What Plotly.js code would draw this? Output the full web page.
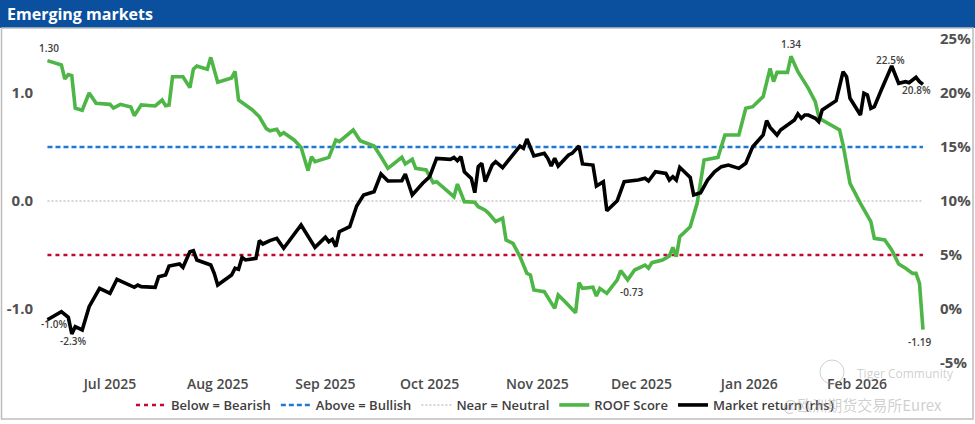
<!DOCTYPE html>
<html>
<head>
<meta charset="utf-8">
<script src="https://cdn.plot.ly/plotly-3.0.1.min.js"></script>
<style>
html,body{margin:0;padding:0;background:#fff;}
#chart{width:975px;height:424px;}
</style>
</head>
<body>
<div id="chart"></div>
<script>
// ---------- data ----------
const monthTicks = ['2025-07-01','2025-08-01','2025-09-01','2025-10-01','2025-11-01','2025-12-01','2026-01-01','2026-02-01'];
const monthLabels = ['Jul 2025','Aug 2025','Sep 2025','Oct 2025','Nov 2025','Dec 2025','Jan 2026','Feb 2026'];

const leftTicks = [-1, 0, 1];
const leftLabels = ['-1.0', '0.0', '1.0'];
const rightTicks = [-5, 0, 5, 10, 15, 20, 25];
const rightLabels = ['-5%', '0%', '5%', '10%', '15%', '20%', '25%'];

const roofDates = ['2025-06-13','2025-06-17','2025-06-18','2025-06-19','2025-06-20','2025-06-21','2025-06-23','2025-06-25','2025-06-27','2025-07-01',
'2025-07-02','2025-07-04','2025-07-07','2025-07-08','2025-07-10','2025-07-14','2025-07-16','2025-07-17','2025-07-18','2025-07-19',
'2025-07-22','2025-07-24','2025-07-25','2025-07-26','2025-07-29','2025-07-30','2025-08-01','2025-08-05','2025-08-06','2025-08-07',
'2025-08-11','2025-08-13','2025-08-15','2025-08-16','2025-08-18','2025-08-19','2025-08-20','2025-08-23','2025-08-25','2025-08-27',
'2025-08-28','2025-08-29','2025-09-02','2025-09-04','2025-09-05','2025-09-09','2025-09-11','2025-09-15','2025-09-17','2025-09-19',
'2025-09-23','2025-09-24','2025-09-26','2025-09-27','2025-09-30','2025-10-02','2025-10-03','2025-10-08','2025-10-09','2025-10-11',
'2025-10-14','2025-10-15','2025-10-16','2025-10-17','2025-10-18','2025-10-20','2025-10-22','2025-10-23','2025-10-25','2025-10-27',
'2025-10-29','2025-10-30','2025-10-31','2025-11-03','2025-11-06','2025-11-07','2025-11-09','2025-11-12','2025-11-13','2025-11-14',
'2025-11-17','2025-11-18','2025-11-19','2025-11-21','2025-11-24','2025-11-25','2025-11-27','2025-11-29','2025-12-02','2025-12-03',
'2025-12-04','2025-12-07','2025-12-09','2025-12-10','2025-12-11','2025-12-12','2025-12-15','2025-12-17','2025-12-19','2025-12-23',
'2025-12-25','2025-12-29','2025-12-31','2026-01-02','2026-01-05','2026-01-07','2026-01-08','2026-01-09','2026-01-12','2026-01-13',
'2026-01-15','2026-01-18','2026-01-20','2026-01-21','2026-01-22','2026-01-25','2026-01-27','2026-01-28','2026-01-30','2026-02-02',
'2026-02-05','2026-02-06','2026-02-09','2026-02-11','2026-02-13','2026-02-15','2026-02-17','2026-02-18','2026-02-19','2026-02-20'];

const roofScore = [1.30,1.26,1.13,1.17,1.16,0.86,0.84,1.00,0.905,0.895,
0.86,0.895,0.87,0.79,0.89,0.88,0.935,0.883,0.889,1.15,
1.15,1.05,1.22,1.25,1.22,1.33,1.10,1.14,1.20,0.935,
0.843,0.78,0.67,0.65,0.664,0.611,0.632,0.565,0.497,0.281,
0.41,0.364,0.404,0.565,0.549,0.657,0.558,0.509,0.41,0.302,
0.404,0.343,0.386,0.302,0.287,0.17,0.179,0.04,0.157,-0.006,
-0.012,-0.053,-0.068,-0.085,-0.114,-0.191,-0.16,-0.361,-0.392,-0.515,
-0.67,-0.685,-0.824,-0.839,-0.994,-0.87,-0.932,-1.034,-0.756,-0.809,
-0.799,-0.88,-0.809,-0.855,-0.731,-0.645,-0.73,-0.639,-0.593,-0.623,
-0.571,-0.546,-0.509,-0.429,-0.515,-0.33,-0.238,-0.022,0.38,0.404,
0.611,0.611,0.858,0.873,0.966,1.228,1.105,1.191,1.191,1.34,
1.197,1.043,0.92,0.781,0.75,0.694,0.657,0.519,0.164,-0.022,
-0.191,-0.346,-0.361,-0.454,-0.583,-0.623,-0.67,-0.67,-0.762,-1.19];

const retDates = ['2025-06-13','2025-06-17','2025-06-19','2025-06-20','2025-06-21','2025-06-23','2025-06-25','2025-06-28','2025-07-01','2025-07-02',
'2025-07-03','2025-07-08','2025-07-09','2025-07-10','2025-07-14','2025-07-15','2025-07-17','2025-07-18','2025-07-21','2025-07-22',
'2025-07-24','2025-07-25','2025-07-26','2025-07-30','2025-07-31','2025-08-01','2025-08-05','2025-08-06','2025-08-07','2025-08-08',
'2025-08-09','2025-08-12','2025-08-13','2025-08-14','2025-08-16','2025-08-18','2025-08-20','2025-08-25','2025-08-29','2025-09-01',
'2025-09-02','2025-09-03','2025-09-04','2025-09-05','2025-09-08','2025-09-10','2025-09-12','2025-09-15','2025-09-17','2025-09-19',
'2025-09-23','2025-09-24','2025-09-26','2025-09-29','2025-10-01','2025-10-03','2025-10-07','2025-10-08','2025-10-09','2025-10-10',
'2025-10-11','2025-10-13','2025-10-14','2025-10-15','2025-10-16','2025-10-17','2025-10-18','2025-10-19','2025-10-20','2025-10-22',
'2025-10-27','2025-10-28','2025-10-29','2025-10-31','2025-11-03','2025-11-04','2025-11-05','2025-11-06','2025-11-07','2025-11-10',
'2025-11-11','2025-11-13','2025-11-14','2025-11-17','2025-11-18','2025-11-20','2025-11-21','2025-11-24','2025-11-26','2025-11-30',
'2025-12-02','2025-12-03','2025-12-05','2025-12-08','2025-12-09','2025-12-10','2025-12-11','2025-12-12','2025-12-15','2025-12-16',
'2025-12-18','2025-12-20','2025-12-22','2025-12-24','2025-12-26','2025-12-29','2025-12-31','2026-01-02','2026-01-05','2026-01-06',
'2026-01-07','2026-01-09','2026-01-10','2026-01-14','2026-01-15','2026-01-16','2026-01-17','2026-01-18','2026-01-20','2026-01-21',
'2026-01-22','2026-01-24','2026-01-26','2026-01-28','2026-01-29','2026-01-30','2026-02-02','2026-02-03','2026-02-04','2026-02-05',
'2026-02-06','2026-02-08','2026-02-11','2026-02-13','2026-02-15','2026-02-16','2026-02-18','2026-02-19','2026-02-20'];

const marketReturn = [-1.0,-0.25,-0.77,-2.3,-1.64,-1.94,0.22,1.91,1.45,2.07,
2.75,2.01,2.22,2.07,2.01,2.99,3.15,3.98,4.17,3.86,
5.31,5.40,4.54,4.07,3.30,2.22,3.15,3.77,3.67,4.78,
4.54,4.69,6.33,6.02,6.33,6.54,5.62,7.78,5.71,6.64,
6.23,6.45,5.77,7.16,7.62,9.54,10.56,10.86,12.5,11.85,
11.88,12.5,10.56,11.64,12.25,13.95,13.86,14.04,13.73,14.10,
12.71,12.10,10.77,13.18,13.49,11.79,12.56,13.33,13.64,13.09,
15.09,14.88,15.74,14.17,14.41,13.95,13.24,13.95,13.24,14.26,
14.41,15.09,13.43,13.33,11.39,11.79,9.10,10.03,11.79,11.94,
12.10,11.85,12.71,12.56,11.94,12.25,11.94,13.12,12.19,10.56,
10.77,11.94,12.71,13.18,13.33,13.02,13.49,15.03,16.11,17.44,
16.82,16.11,16.57,17.50,18.06,17.66,17.96,17.96,17.66,17.35,
18.43,18.89,19.29,21.97,21.51,19.51,17.96,19.97,19.81,18.58,
18.73,20.28,22.5,20.9,21.05,20.95,21.45,21.05,20.8];

const refNames = ['Below = Bearish', 'Above = Bullish', 'Near = Neutral'];
const refLevels = [-0.5, 0.5, 0];

// ---------- chart ----------
const refSpan = [roofDates[0], roofDates[roofDates.length - 1]];
const refStyles = [
  {color: '#C00A2E', width: 2.6, dash: '4px,4px'},
  {color: '#1E78D2', width: 2.6, dash: '5px,3px'},
  {color: '#C8C8C8', width: 1.6, dash: '2px,2px'}
];

const traces = refNames.map((n, i) => ({
  type: 'scatter', mode: 'lines', name: n,
  x: refSpan, y: [refLevels[i], refLevels[i]],
  line: refStyles[i], hoverinfo: 'skip'
}));
traces.push({
  type: 'scatter', mode: 'lines', name: 'ROOF Score',
  x: roofDates, y: roofScore,
  line: {color: '#4DB647', width: 3.6}
});
traces.push({
  type: 'scatter', mode: 'lines', name: 'Market return (rhs)',
  x: retDates, y: marketReturn, yaxis: 'y2',
  line: {color: '#000000', width: 3.6}
});

const tickFont = {family: 'Open Sans, sans-serif', size: 15, color: '#505050', weight: 700};
const labFont = {family: 'Open Sans, sans-serif', size: 10, color: '#404040', weight: 600};

function lab(x, y, text, yref, xs, ys) {
  return {x: x, y: y, xref: 'x', yref: yref, text: text, showarrow: false,
          xanchor: 'center', yanchor: 'middle',
          xshift: xs, yshift: ys, font: labFont};
}
const rl = roofDates.length - 1, ml = retDates.length - 1;
const annotations = [
  lab(roofDates[0], roofScore[0], roofScore[0].toFixed(2), 'y', 2, 13),
  lab(roofDates[109], roofScore[109], roofScore[109].toFixed(2), 'y', 0, 12),
  lab(roofDates[86], roofScore[86], roofScore[86].toFixed(2), 'y', 4, -12),
  lab(roofDates[rl], roofScore[rl], roofScore[rl].toFixed(2), 'y', -3, -12),
  lab(retDates[0], marketReturn[0], marketReturn[0].toFixed(1) + '%', 'y2', 7, -4),
  lab(retDates[3], marketReturn[3], marketReturn[3].toFixed(1) + '%', 'y2', 1, -7),
  lab(retDates[132], marketReturn[132], marketReturn[132].toFixed(1) + '%', 'y2', -1, 6),
  lab(retDates[ml], marketReturn[ml], marketReturn[ml].toFixed(1) + '%', 'y2', -6, -6),
  // watermark
  {xref: 'paper', yref: 'paper', x: (905 - 45)/880, y: (363 - 373)/324, xanchor: 'center', yanchor: 'middle',
   text: 'Tiger Community', showarrow: false,
   font: {family: 'Open Sans, sans-serif', size: 12, color: 'rgba(160,160,160,0.5)'}},
  {xref: 'paper', yref: 'paper', x: (862 - 45)/880, y: (363 - 405)/324, xanchor: 'center', yanchor: 'middle',
   text: '@欧洲期货交易所Eurex', showarrow: false,
   font: {family: 'Noto Sans CJK SC, sans-serif', size: 15, color: 'rgba(160,160,160,0.5)'}}
];

const layout = {
  width: 975, height: 424,
  margin: {l: 45, r: 50, t: 39, b: 61, pad: 0, autoexpand: false},
  paper_bgcolor: '#ffffff', plot_bgcolor: '#ffffff',
  title: {text: 'Emerging markets', x: 7/975, xanchor: 'left', y: 1 - 14.5/424, yanchor: 'middle',
          font: {family: 'Open Sans, sans-serif', size: 16, color: '#ffffff', weight: 700}},
  showlegend: true,
  legend: {orientation: 'h', x: 0.5, xanchor: 'center', yref: 'container', y: 1 - 405/424, yanchor: 'middle',
           font: {family: 'Open Sans, sans-serif', size: 13, color: '#404040', weight: 600},
           itemwidth: 30, bgcolor: 'rgba(0,0,0,0)'},
  xaxis: {type: 'date', range: ['2025-06-12 07:00', '2026-02-20 14:00'],
          tickmode: 'array', tickvals: monthTicks, ticktext: monthLabels,
          showgrid: false, zeroline: false, showline: false, automargin: false,
          ticks: 'outside', ticklen: 8, tickcolor: 'rgba(0,0,0,0)',
          tickfont: {family: 'Open Sans, sans-serif', size: 14, color: '#4a4a4a', weight: 600}},
  yaxis: {range: [-1.5, 1.5], tickmode: 'array', tickvals: leftTicks, ticktext: leftLabels,
          showgrid: false, zeroline: false, showline: false, automargin: false,
          ticks: 'outside', ticklen: 8, tickcolor: 'rgba(0,0,0,0)', tickfont: tickFont},
  yaxis2: {range: [-5, 25], overlaying: 'y', side: 'right', tickmode: 'array',
           tickvals: rightTicks, ticktext: rightLabels, automargin: false,
           showgrid: false, zeroline: false, showline: false,
           ticks: 'outside', ticklen: 11, tickcolor: 'rgba(0,0,0,0)', tickfont: tickFont},
  shapes: [
    {type: 'rect', xref: 'paper', yref: 'paper', layer: 'below',
     x0: -45/880, x1: 1 + 50/880, y0: 1 + 11/324, y1: 1 + 39/324,
     fillcolor: '#0B509E', line: {width: 0}},
    {type: 'rect', xref: 'paper', yref: 'paper', layer: 'below',
     x0: (1.5 - 45)/880, x1: (973 - 45)/880, y0: (363 - 419)/324, y1: 1 + 11/324,
     fillcolor: 'rgba(0,0,0,0)', line: {color: '#BDBDBD', width: 1.5}},
    {type: 'circle', xref: 'paper', yref: 'paper',
     x0: (820 - 45)/880, x1: (844 - 45)/880, y0: (363 - 384)/324, y1: (363 - 360)/324,
     fillcolor: 'rgba(0,0,0,0)', line: {color: 'rgba(160,160,160,0.5)', width: 1}}
  ],
  annotations: annotations
};

Plotly.newPlot('chart', traces, layout, {displayModeBar: false, staticPlot: true});
</script>
</body>
</html>
